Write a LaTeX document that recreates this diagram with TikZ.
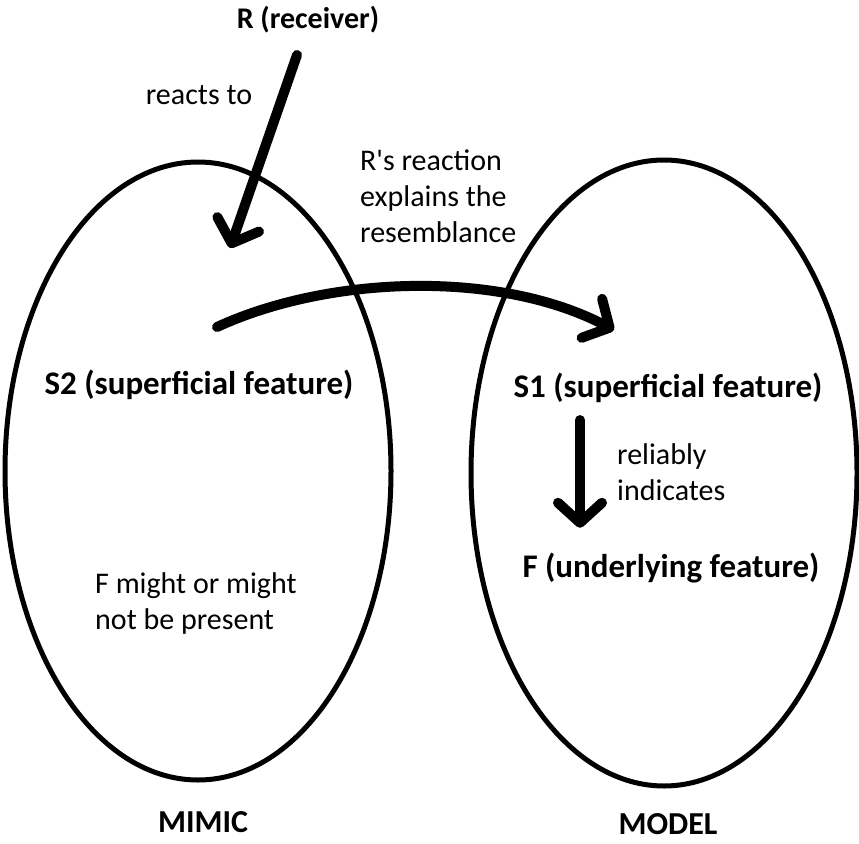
\documentclass[tikz,border=0pt]{standalone}
\usepackage{fontspec}
\setmainfont{Carlito}[Ligatures=TeXOff]
\usetikzlibrary{arrows.meta}
\begin{document}
\begin{tikzpicture}[x=1pt,y=-1pt,
  lab/.style={font=\fontsize{33}{40}\selectfont\bfseries, inner sep=0pt},
  ttl/.style={font=\fontsize{30}{36}\selectfont\bfseries, inner sep=0pt},
  big/.style={font=\fontsize{32}{38}\selectfont\bfseries, inner sep=0pt},
  txt/.style={font=\fontsize{30}{36}\selectfont, inner sep=0pt, align=left},
  oval/.style={line width=5pt},
  fat/.style={line width=10pt, line cap=round, -{Straight Barb[length=20pt,width=44pt,round]}}]
\useasboundingbox (0,0) rectangle (859,843);
\draw[oval] (198,471) ellipse [x radius=193, y radius=309];
\draw[oval] (664,473) ellipse [x radius=193, y radius=313];
\node[ttl] (R) at (308,20) {R (receiver)};
\node[txt] (reacts) at (199,95) {reacts to};
\node[txt, anchor=west] (expl) at (360,196) {R's reaction\\explains the\\resemblance};
\node[lab] (S2) at (199,385) {S2 (superficial feature)};
\node[lab] (S1) at (668,388) {S1 (superficial feature)};
\node[txt, anchor=west] (rel) at (617,472) {reliably\\indicates};
\node[lab] (F) at (671,568) {F (underlying feature)};
\node[txt, anchor=west] (fm) at (95,603) {F might or might\\not be present};
\node[big] (mimic) at (203,822) {MIMIC};
\node[big] (model) at (668,824) {MODEL};
\coordinate (rs) at (297,55);
\coordinate (rt) at (230,248);
\coordinate (cs) at (217,327);
\coordinate (ct) at (614,330);
\coordinate (dx) at (580,0);
\draw[fat] (rs) -- (rt);
\draw[fat] (cs) .. controls (330,275) and (500,270) .. (ct);
\draw[fat, shorten <=17pt, shorten >=25pt] (S1.south -| dx) -- (F.north -| dx);
\end{tikzpicture}
\end{document}
